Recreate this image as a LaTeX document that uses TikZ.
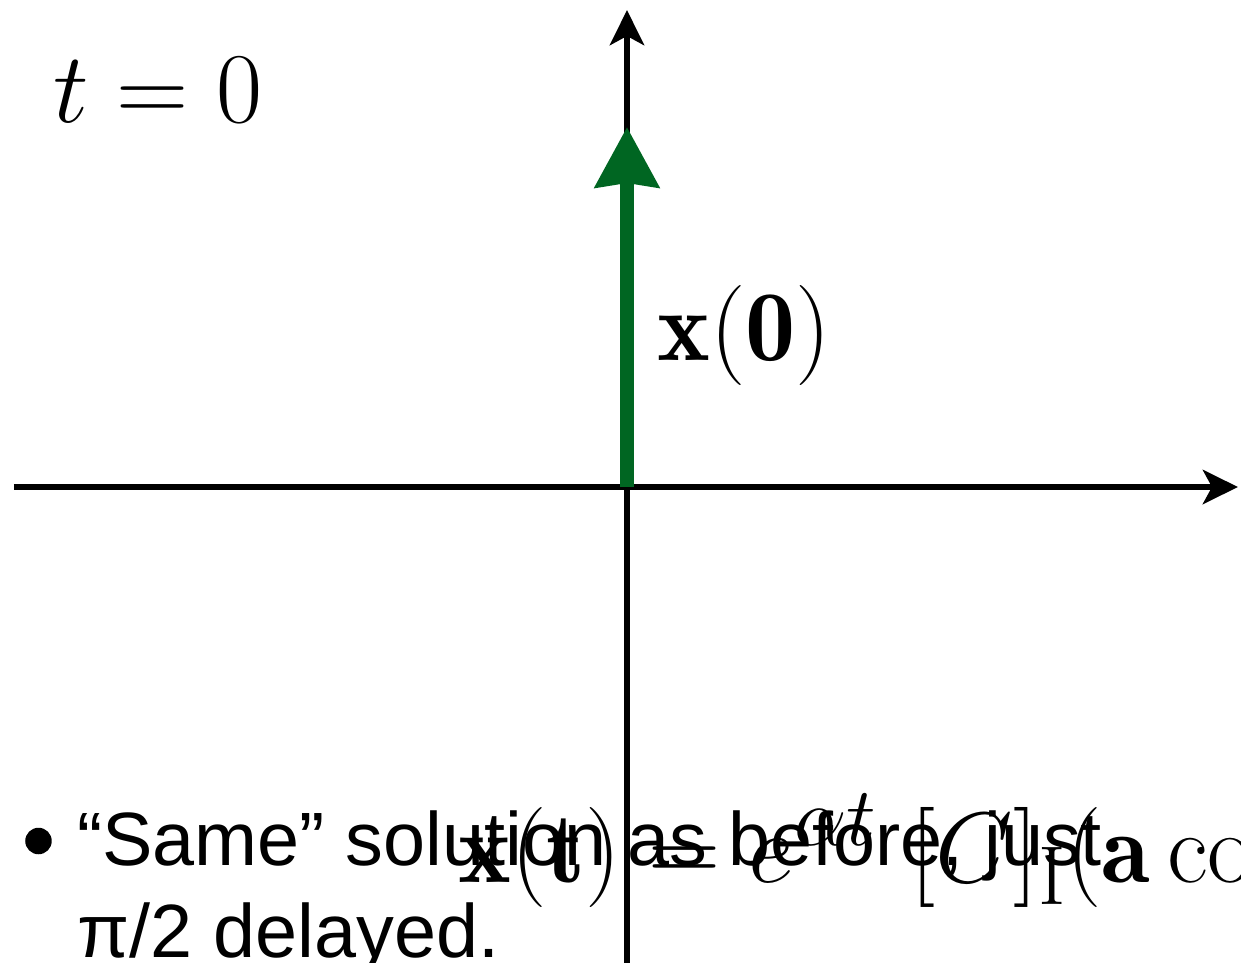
\RequirePackage{fix-cm}
\documentclass[tikz,border=0pt]{standalone}
\usepackage{amsmath}
\usepackage{fontspec}
\usepackage{tikz}
\usetikzlibrary{arrows.meta}
\newfontfamily\slidefont{Liberation Sans}
\definecolor{vecgreen}{RGB}{0,102,34}
\DeclareMathSizes{57}{57}{47.5}{39.6}

\begin{document}
\begin{tikzpicture}[
  axis/.style={line width=3.8pt, -{Stealth[length=0.7cm,width=0.68cm,inset=0.18cm]}},
  vec/.style={vecgreen, line width=7.4pt, -{Stealth[length=1.2cm,width=1.26cm,inset=0.08cm]}},
  bigmath/.style={inner sep=0pt, anchor=base west, font=\fontsize{57}{64}\selectfont},
  slidetext/.style={inner sep=0pt, anchor=base west, font=\fontsize{43}{52}\slidefont}]
\useasboundingbox (-12.54,-9.5) rectangle (12.28,9.74);
\clip (-12.54,-9.5) rectangle (12.28,9.74);

% 坐标轴
\coordinate (O) at (0,0);
\coordinate (xl) at (-12.26,0);
\coordinate (xr) at (12.22,0);
\coordinate (yb) at (0,-9.7);
\coordinate (yt) at (0,9.54);
\draw[axis] (xl)--(xr);
\draw[axis] (yb)--(yt);

% 初始向量
\coordinate (v) at (0,7.2);
\draw[vec] (O)--(v);

% 标签
\node[bigmath] (time) at (-11.48,7.3) {$t=0$};
\node[bigmath] (x0) at (0.6,2.54) {$\mathbf{x}(\mathbf{0})$};

% 底部文字
\node[circle, fill, inner sep=0pt, minimum size=0.53cm] (dot) at (-11.77,-7.08) {};
\node[slidetext] (line1) at (-11.0,-7.56) {“Same” solution as before, just};
\node[slidetext] (line2) at (-11.0,-9.4) {π/2 delayed.};
\node[bigmath] (sol) at (-3.38,-7.9) {$\mathbf{x}(\mathbf{t})=e^{\alpha t}\mkern6mu[C]_{\mathrm{I}}(\mathbf{a}\cos$};
\end{tikzpicture}
\end{document}
